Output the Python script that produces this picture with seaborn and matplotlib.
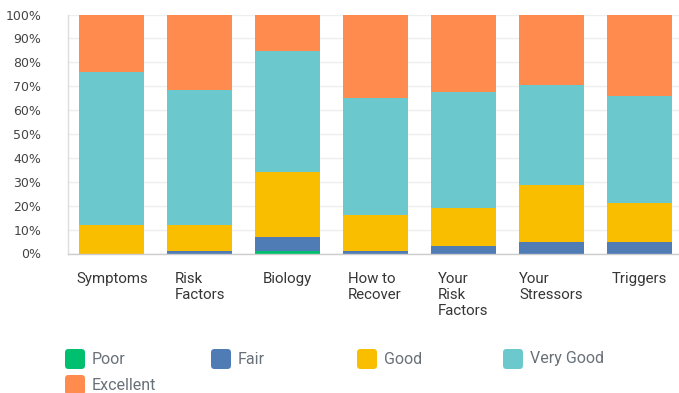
import numpy as np
import pandas as pd
import seaborn as sns
import matplotlib
matplotlib.use("Agg")
import matplotlib.pyplot as plt
from matplotlib.patches import FancyBboxPatch
from matplotlib.transforms import IdentityTransform

# Survey topics and the share of answers (%) in each rating level
topics = ["Symptoms", "Risk\nFactors", "Biology", "How to\nRecover",
          "Your\nRisk\nFactors", "Your\nStressors", "Triggers"]
levels = ["Poor", "Fair", "Good", "Very Good", "Excellent"]
poor = [0.0, 0.0, 1.0, 0.0, 0.0, 0.0, 0.0]
fair = [0.0, 1.1, 5.8, 1.0, 3.1, 4.7, 4.7]
good = [12.1, 11.0, 27.5, 14.9, 15.9, 23.9, 16.3]
very_good = [63.8, 56.3, 50.5, 49.0, 48.5, 41.8, 44.8]
excellent = [24.1, 31.6, 15.2, 35.1, 32.5, 29.6, 34.2]
colors = ["#00BF6F", "#507CB6", "#F9BE00", "#6BC8CD", "#FF8B4F"]

W, H, DPI = 679, 393, 100

sns.set_theme(style="white")
plt.rcParams["font.family"] = ["DejaVu Sans"]

fig = plt.figure(figsize=(W / DPI, H / DPI), dpi=DPI)
# axes placed in pixel terms: left spine at x~67, 0% at y~253, 100% at y~14
ax = fig.add_axes([67.5 / W, (H - 253.5) / H, 616 / W, 239 / H])

# long table with cumulative tops so each level is stacked on the previous
series = [poor, fair, good, very_good, excellent]
rows = []
for lvl, vals in zip(levels, series):
    for t, v in zip(topics, vals):
        rows.append({"topic": t, "level": lvl, "value": v})
df = pd.DataFrame(rows)
df["level"] = pd.Categorical(df["level"], categories=levels, ordered=True)
df["topic"] = pd.Categorical(df["topic"], categories=topics, ordered=True)
df = df.sort_values(["topic", "level"])
df["top"] = df.groupby("topic", observed=True)["value"].cumsum()

# draw from the outermost level inwards so lower segments sit on top
for lvl, col in reversed(list(zip(levels, colors))):
    sub = df[df["level"] == lvl]
    sns.barplot(data=sub, x="topic", y="top", order=topics, color=col,
                saturation=1, width=0.7287, errorbar=None, ax=ax,
                linewidth=0)

ax.set_xlim(-0.5, 6.5)
ax.set_ylim(0, 100)
ax.set_yticks(np.arange(0, 101, 10))
ax.set_yticklabels([f"{v}%" for v in range(0, 101, 10)], fontsize=9,
                   color="#444444")
ax.tick_params(axis="y", length=0, pad=19)
ax.tick_params(axis="x", length=0, labelbottom=False)
ax.set_xlabel("")
ax.set_ylabel("")
ax.yaxis.grid(True, color="#eeeeee", linewidth=1)
ax.set_axisbelow(True)
for s in ["top", "right"]:
    ax.spines[s].set_visible(False)
ax.spines["left"].set_color("#dddddd")
ax.spines["bottom"].set_color("#cccccc")
ax.spines["left"].set_linewidth(1)
ax.spines["bottom"].set_linewidth(1)

# category names laid out under the plot
label_left = [76, 175, 263, 348, 438, 519, 612]
for x, t in zip(label_left, topics):
    fig.text(x / W, 1 - 272 / H, t, ha="left", va="top", fontsize=10.8,
             family="Roboto", color="#363636", linespacing=1.2)

# legend with rounded colour chips in four columns
col_x = [65, 211, 357, 503]
row_y = [359, 385]
for i, (lvl, col) in enumerate(zip(levels, colors)):
    cx, cy = col_x[i % 4], row_y[i // 4]
    chip = FancyBboxPatch((cx, H - cy - 10), 20, 20,
                          boxstyle="round,pad=0,rounding_size=3.5",
                          transform=IdentityTransform(), facecolor=col,
                          edgecolor="none")
    fig.patches.append(chip)
    fig.text((cx + 27) / W, 1 - cy / H, lvl, ha="left", va="center",
             fontsize=11.5, family="Roboto", color="#687078")

fig.savefig("out.png", dpi=DPI)
